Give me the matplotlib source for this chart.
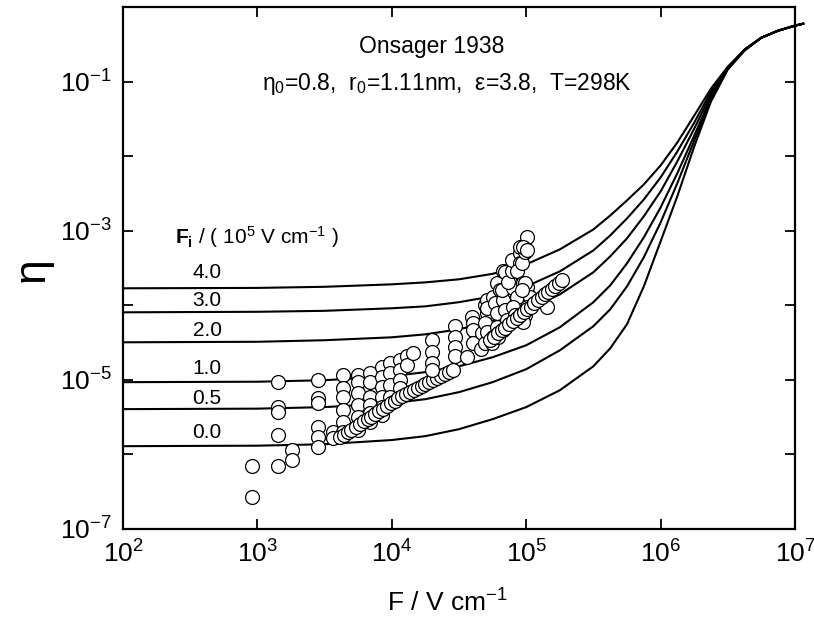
import numpy as np
import matplotlib
matplotlib.use("Agg")
from matplotlib import pyplot as plt
from matplotlib.ticker import FixedLocator, FuncFormatter, NullLocator

plt.rcParams['font.family'] = ['Liberation Sans', 'DejaVu Sans']
plt.rcParams['mathtext.fontset'] = 'custom'
plt.rcParams['mathtext.rm'] = 'Liberation Sans'
plt.rcParams['mathtext.it'] = 'Liberation Sans:italic'
plt.rcParams['mathtext.bf'] = 'Liberation Sans:bold'
plt.rcParams['mathtext.default'] = 'regular'

# Onsager curves (F in V/cm)
F_curve = [1e2, 1e3, 3.16e3, 1e4, 1.78e4, 3.16e4, 5.62e4, 1e5, 1.78e5, 3.16e5, 4.22e5, 5.62e5,
           7.5e5, 1e6, 1.33e6, 1.78e6, 2.37e6, 3.16e6, 4.22e6, 5.62e6, 7.5e6, 1e7, 1.15e7]
eta_40 = [1.69e-4, 1.71e-4, 1.77e-4, 1.91e-4, 2.03e-4, 2.23e-4, 2.64e-4, 3.54e-4, 5.62e-4, 1.04e-3,
          1.60e-3, 2.55e-3, 4.17e-3, 7.50e-3, 1.52e-2, 3.50e-2, 8.05e-2, 0.158, 0.268, 0.388,
          0.482, 0.562, 0.597]
eta_30 = [8.05e-5, 8.18e-5, 8.43e-5, 9.12e-5, 9.68e-5, 1.10e-4, 1.32e-4, 1.79e-4, 2.85e-4, 5.44e-4,
          8.65e-4, 1.46e-3, 2.62e-3, 5.18e-3, 1.15e-2, 2.82e-2, 7.35e-2, 0.154, 0.268, 0.388,
          0.482, 0.562, 0.597]
eta_20 = [3.19e-5, 3.24e-5, 3.40e-5, 3.72e-5, 4.08e-5, 4.76e-5, 6.11e-5, 8.57e-5, 1.40e-4, 2.77e-4,
          4.53e-4, 7.89e-4, 1.56e-3, 3.36e-3, 8.47e-3, 2.34e-2, 6.70e-2, 0.154, 0.268, 0.388,
          0.482, 0.562, 0.597]
eta_10 = [9.31e-6, 9.44e-6, 9.89e-6, 1.12e-5, 1.27e-5, 1.52e-5, 2.01e-5, 2.91e-5, 5.07e-5, 1.10e-4,
          1.85e-4, 3.65e-4, 8.13e-4, 2.05e-3, 5.86e-3, 1.89e-2, 6.10e-2, 0.149, 0.268, 0.388,
          0.482, 0.562, 0.597]
eta_05 = [4.05e-6, 4.11e-6, 4.31e-6, 4.86e-6, 5.51e-6, 6.84e-6, 9.31e-6, 1.39e-5, 2.49e-5, 5.24e-5,
          8.83e-5, 1.79e-4, 4.40e-4, 1.29e-3, 4.31e-3, 1.62e-2, 5.74e-2, 0.149, 0.268, 0.388,
          0.482, 0.562, 0.597]
eta_00 = [1.29e-6, 1.31e-6, 1.37e-6, 1.56e-6, 1.76e-6, 2.18e-6, 2.97e-6, 4.31e-6, 7.26e-6, 1.52e-5,
          2.65e-5, 5.56e-5, 1.79e-4, 7.19e-4, 2.88e-3, 1.35e-2, 5.40e-2, 0.145, 0.260, 0.388,
          0.482, 0.562, 0.597]
curve_labels = ['4.0', '3.0', '2.0', '1.0', '0.5', '0.0']

# measured points, low field
F_low = [9.1e2, 9.1e2,
         1.42e3, 1.42e3, 1.42e3, 1.42e3, 1.42e3,
         1.81e3, 1.81e3,
         2.83e3, 2.83e3, 2.83e3, 2.83e3, 2.83e3, 2.83e3,
         3.65e3, 3.65e3,
         4.34e3, 4.34e3, 4.34e3, 4.34e3, 4.34e3, 4.34e3,
         5.6e3, 5.6e3, 5.6e3, 5.6e3, 5.6e3, 5.6e3,
         6.9e3, 6.9e3, 6.9e3, 6.9e3, 6.9e3, 6.9e3,
         8.45e3, 8.45e3, 8.45e3, 8.45e3, 8.45e3, 8.45e3,
         9.7e3, 9.7e3, 9.7e3, 9.7e3,
         1.15e4, 1.15e4, 1.15e4, 1.15e4,
         1.3e4, 1.3e4, 1.44e4]
eta_low = [7.0e-7, 2.7e-7,
           9.3e-6, 4.3e-6, 3.7e-6, 1.8e-6, 7.0e-7,
           1.14e-6, 8.4e-7,
           9.9e-6, 5.7e-6, 4.9e-6, 2.3e-6, 1.7e-6, 1.25e-6,
           2.0e-6, 1.66e-6,
           1.15e-5, 7.7e-6, 5.9e-6, 3.9e-6, 2.7e-6, 2.0e-6,
           1.15e-5, 9.3e-6, 6.6e-6, 4.6e-6, 3.2e-6, 2.1e-6,
           1.23e-5, 9.3e-6, 5.9e-6, 4.6e-6, 3.6e-6, 2.7e-6,
           1.48e-5, 1.09e-5, 8.0e-6, 5.9e-6, 4.3e-6, 3.4e-6,
           1.67e-5, 1.23e-5, 8.5e-6, 5.9e-6,
           1.83e-5, 1.35e-5, 9.9e-6, 7.7e-6,
           2.1e-5, 1.57e-5, 2.28e-5]

# dense run along the lower curves
F_run1 = [4.1e3, 4.4e3, 4.7e3, 5.0e3, 5.4e3, 5.8e3, 6.2e3, 6.6e3, 7.0e3, 7.5e3,
          8.0e3, 8.6e3, 9.2e3, 9.8e3, 1.05e4, 1.12e4, 1.2e4, 1.28e4, 1.37e4, 1.46e4,
          1.56e4, 1.67e4, 1.78e4, 1.9e4, 2.03e4, 2.17e4, 2.32e4, 2.48e4, 2.65e4, 2.83e4]
eta_run1 = [1.70e-6, 1.85e-6, 2.0e-6, 2.15e-6, 2.35e-6, 2.57e-6, 2.78e-6, 3.0e-6, 3.22e-6, 3.5e-6,
            3.78e-6, 4.12e-6, 4.48e-6, 4.83e-6, 5.25e-6, 5.67e-6, 6.1e-6, 6.5e-6, 6.9e-6, 7.3e-6,
            7.8e-6, 8.3e-6, 8.8e-6, 9.35e-6, 9.9e-6, 1.06e-5, 1.12e-5, 1.2e-5, 1.27e-5, 1.36e-5]

# measured points, high field
F_high = [1.99e4, 1.99e4, 1.99e4, 1.99e4,
          2.95e4, 2.95e4, 2.95e4, 2.95e4,
          3.63e4, 3.96e4, 4.04e4, 4.04e4, 4.04e4, 4.6e4,
          4.69e4, 4.93e4, 4.93e4, 5.1e4, 4.93e4, 5.1e4, 5.1e4, 5.1e4,
          5.66e4, 5.86e4, 6.07e4, 6.07e4, 5.66e4, 5.57e4, 6.07e4,
          6.38e4, 6.72e4, 6.95e4, 7.19e4, 6.72e4, 6.17e4, 6.61e4, 6.72e4,
          6.95e4, 7.57e4, 7.97e4, 8.54e4, 7.97e4, 8.25e4, 7.32e4, 7.84e4,
          7.84e4, 9.0e4, 9.0e4, 8.54e4, 9.31e4, 9.0e4, 9.8e4,
          1.01e5, 9.47e4, 1.01e5,
          9.47e4, 1.01e5, 1.07e5, 1.01e5, 9.8e4, 9.47e4, 9.8e4, 9.31e4, 1.43e5]
eta_high = [3.4e-5, 2.34e-5, 1.67e-5, 1.35e-5,
            5.2e-5, 3.7e-5, 2.73e-5, 2.1e-5,
            2.0e-5, 6.9e-5, 5.7e-5, 4.6e-5, 3.1e-5, 2.6e-5,
            4.2e-5, 3.1e-5, 1.0e-4, 7.8e-5, 5.7e-5, 4.35e-5, 1.17e-4, 9.1e-5,
            1.28e-4, 1.06e-4, 7.8e-5, 5.1e-5, 3.7e-5, 3.1e-5, 1.97e-4,
            1.6e-4, 1.17e-4, 8.6e-5, 6.3e-5, 4.6e-5, 3.7e-5, 1.6e-4, 2.9e-4,
            2.77e-4, 2.03e-4, 1.69e-4, 1.28e-4, 9.4e-5, 7.3e-5, 2.03e-4, 2.9e-4,
            4.0e-4, 4.98e-4, 3.65e-4, 2.9e-4, 3.65e-4, 5.98e-4, 5.13e-4,
            8.15e-4, 5.98e-4, 5.46e-4,
            1.97e-4, 1.74e-4, 1.28e-4, 9.4e-5, 7.3e-5, 5.9e-5, 1.97e-4, 1.6e-4, 9.4e-5]

# second dense run
F_run2 = [5.4e4, 5.8e4, 6.2e4, 6.6e4, 7.0e4, 7.5e4, 8.0e4, 8.5e4, 9.0e4, 9.6e4, 1.02e5,
          1.08e5, 1.15e5, 1.22e5, 1.3e5, 1.38e5, 1.46e5, 1.55e5, 1.65e5, 1.75e5, 1.85e5]
eta_run2 = [3.41e-5, 3.79e-5, 4.2e-5, 4.61e-5, 5.03e-5, 5.58e-5, 6.15e-5, 6.73e-5, 7.34e-5, 8.1e-5, 8.9e-5,
            9.6e-5, 1.06e-4, 1.16e-4, 1.28e-4, 1.40e-4, 1.52e-4, 1.66e-4, 1.82e-4, 1.99e-4, 2.16e-4]

fig = plt.figure(figsize=(8.14, 6.28), dpi=100)
ax = fig.add_axes([123 / 814, 1 - 529 / 628, 672 / 814, 522 / 628])

for eta in [eta_40, eta_30, eta_20, eta_10, eta_05, eta_00]:
    ax.plot(F_curve, eta, color='black', lw=1.5, clip_on=False, zorder=2,
            solid_joinstyle='round')

mk = dict(ls='none', marker='o', ms=10, mfc='white', mec='black', mew=0.9, zorder=3)
ax.plot(F_low, eta_low, **mk)
ax.plot(F_run1, eta_run1, **mk)
ax.plot(F_high, eta_high, **mk)
ax.plot(F_run2, eta_run2, **mk)

ax.set_xscale('log')
ax.set_yscale('log')
ax.set_xlim(1e2, 1e7)
ax.set_ylim(1e-7, 1)

ax.xaxis.set_major_locator(FixedLocator([10.0 ** k for k in range(2, 8)]))
ax.yaxis.set_major_locator(FixedLocator([10.0 ** k for k in range(-7, 1)]))
ax.xaxis.set_minor_locator(NullLocator())
ax.yaxis.set_minor_locator(NullLocator())
ax.xaxis.set_major_formatter(FuncFormatter(lambda v, p: r'$10^{%d}$' % round(np.log10(v))))
ax.yaxis.set_major_formatter(FuncFormatter(
    lambda v, p: r'$10^{%d}$' % round(np.log10(v)) if round(np.log10(v)) % 2 else ''))
ax.tick_params(which='both', direction='in', top=True, right=True, length=7,
               width=1.3, labelsize=19, pad=8)
for s in ax.spines.values():
    s.set_linewidth(1.6)

# axis titles
fig.text(447 / 814, 1 - 603 / 628, r'F / V cm$^{-1}$', fontsize=19, ha='center', va='center')
fig.text(32 / 814, 1 - 270 / 628, 'η', fontsize=32, ha='center', va='center', rotation=90)

# curve labels
label_y = [273, 301, 330, 368, 398, 432]
for lab, yy in zip(curve_labels, label_y):
    fig.text(207 / 814, 1 - yy / 628, lab, fontsize=15, ha='center', va='center')

fig.text(175 / 814, 1 - 237 / 628, r'$\mathbf{F_i}$ / ( 10$^5$ V cm$^{-1}$ )',
         fontsize=15, ha='left', va='center')
fig.text(432 / 814, 1 - 46 / 628, 'Onsager 1938', fontsize=16.5, ha='center', va='center')
fig.text(447 / 814, 1 - 84 / 628,
         r'η$_0$=0.8,  r$_0$=1.11nm,  ε=3.8,  T=298K',
         fontsize=16.5, ha='center', va='center')

fig.savefig('out.png', dpi=100)
